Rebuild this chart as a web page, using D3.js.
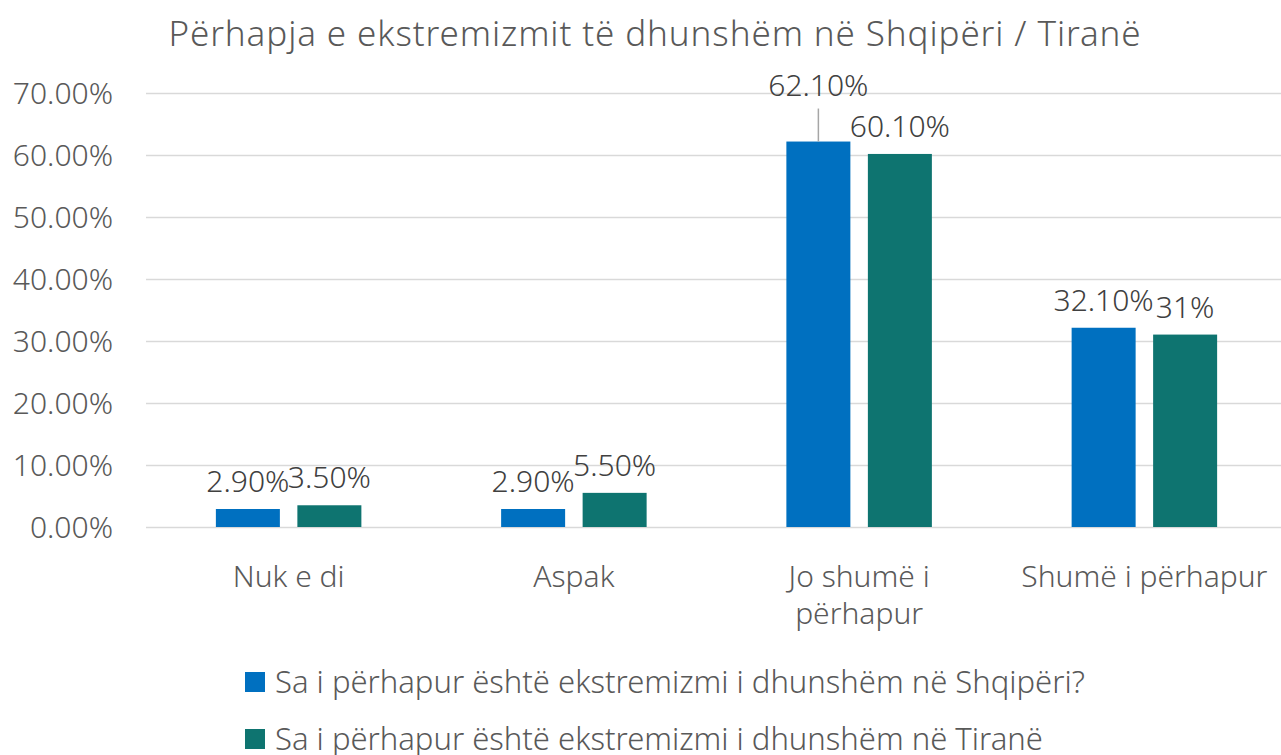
<!DOCTYPE html>
<html>
<head>
<meta charset="utf-8">
<script src="https://cdn.jsdelivr.net/npm/d3@7"></script>
<style>
	body { margin: 0; background: #fff; }
	svg { font-family: 'Segoe UI', 'Noto Sans', sans-serif; font-weight: 300; }
</style>
</head>
<body>
<div id="chart"></div>
<script>
'use strict';

let categories = ['Nuk e di', 'Aspak', 'Jo shumë i përhapur', 'Shumë i përhapur'];
let catLines = [['Nuk e di'], ['Aspak'], ['Jo shumë i', 'përhapur'], ['Shumë i përhapur']];
let seriesNames = [
	'Sa i përhapur është ekstremizmi i dhunshëm në Shqipëri?',
	'Sa i përhapur është ekstremizmi i dhunshëm në Tiranë',
];
let shqiperi = [2.9, 2.9, 62.1, 32.1];
let tirane = [3.5, 5.5, 60.1, 31];
let labelsShqiperi = ['2.90%', '2.90%', '62.10%', '32.10%'];
let labelsTirane = ['3.50%', '5.50%', '60.10%', '31%'];
let yTicks = [0, 10, 20, 30, 40, 50, 60, 70];
let colors = ['#0070c0', '#0e7470'];

let W = 1281, H = 755;
let fs = 30;
let svg = d3.select('#chart')
	.append('svg')
		.attr('width', W)
		.attr('height', H)
	;

let x = d3.scaleBand().domain(categories).range([146, 1287]).paddingInner(0).paddingOuter(0);
let y = d3.scaleLinear().domain([0, 70]).range([527, 92.5]);

svg.append('text')
	.attr('x', 655)
	.attr('y', 46)
	.attr('text-anchor', 'middle')
	.attr('font-size', 35)
	.attr('letter-spacing', 0.9)
	.attr('fill', '#595959')
	.text('Përhapja e ekstremizmit të dhunshëm në Shqipëri / Tiranë');

// gridlines
svg.append('g')
	.selectAll('line')
	.data(yTicks)
	.join('line')
		.attr('x1', 146)
		.attr('x2', W)
		.attr('y1', d => Math.round(y(d)) + 0.5)
		.attr('y2', d => Math.round(y(d)) + 0.5)
		.attr('stroke', '#d9d9d9')
		.attr('stroke-width', 1.5)
	;

svg.append('g')
	.selectAll('text')
	.data(yTicks)
	.join('text')
		.attr('x', 113)
		.attr('y', d => y(d) + 11)
		.attr('text-anchor', 'end')
		.attr('font-size', fs)
		.attr('fill', '#595959')
		.text(d => d.toFixed(2) + '%')
	;

let barW = 64, gap = 17.5;
let series = [shqiperi, tirane];
let labels = [labelsShqiperi, labelsTirane];

let bx = function(ci, si) {
	let c = x(categories[ci]) + x.bandwidth()/2;
	return c - gap/2 - barW + si*(barW + gap);
};

for (let si=0 ; si<series.length ; ++si) {
	svg.append('g')
		.selectAll('rect')
		.data(series[si])
		.join('rect')
			.attr('x', (d, i) => bx(i, si))
			.attr('y', d => y(d))
			.attr('width', barW)
			.attr('height', d => y(0) - y(d))
			.attr('fill', colors[si])
		;
}

// data labels
for (let si=0 ; si<series.length ; ++si) {
	for (let ci=0 ; ci<categories.length ; ++ci) {
		let v = series[si][ci];
		let cx = bx(ci, si) + barW/2;
		let ly = y(v) - 17;
		if (si == 0 && ci == 2) {
			// label pushed up with a leader line
			ly = y(v) - 46;
			svg.append('line')
				.attr('x1', cx).attr('x2', cx)
				.attr('y1', ly + 13).attr('y2', y(v))
				.attr('stroke', '#a6a6a6')
				.attr('stroke-width', 1.5);
		}
		svg.append('text')
			.attr('x', cx)
			.attr('y', ly)
			.attr('text-anchor', 'middle')
			.attr('font-size', fs)
			.attr('fill', '#404040')
			.text(labels[si][ci]);
	}
}

// category labels
let cat = svg.append('g')
	.selectAll('text')
	.data(categories)
	.join('text')
		.attr('x', d => x(d) + x.bandwidth()/2)
		.attr('y', 587)
		.attr('text-anchor', 'middle')
		.attr('font-size', fs)
		.attr('fill', '#595959')
	;
cat.each(function(d, i) {
	let t = d3.select(this);
	catLines[i].forEach((ln, j) => {
		t.append('tspan')
			.attr('x', x(d) + x.bandwidth()/2)
			.attr('dy', j == 0 ? 0 : 37)
			.text(ln);
	});
});

// legend
let lg = svg.append('g')
	.selectAll('g')
	.data(seriesNames)
	.join('g')
		.attr('transform', (d, i) => 'translate(245,' + (672 + i*57) + ')')
	;
lg.append('rect')
	.attr('width', 20)
	.attr('height', 20)
	.attr('fill', (d, i) => colors[i]);
lg.append('text')
	.attr('x', 30)
	.attr('y', 21)
	.attr('font-size', 31)
	.attr('fill', '#595959')
	.text(d => d);
</script>
</body>
</html>
